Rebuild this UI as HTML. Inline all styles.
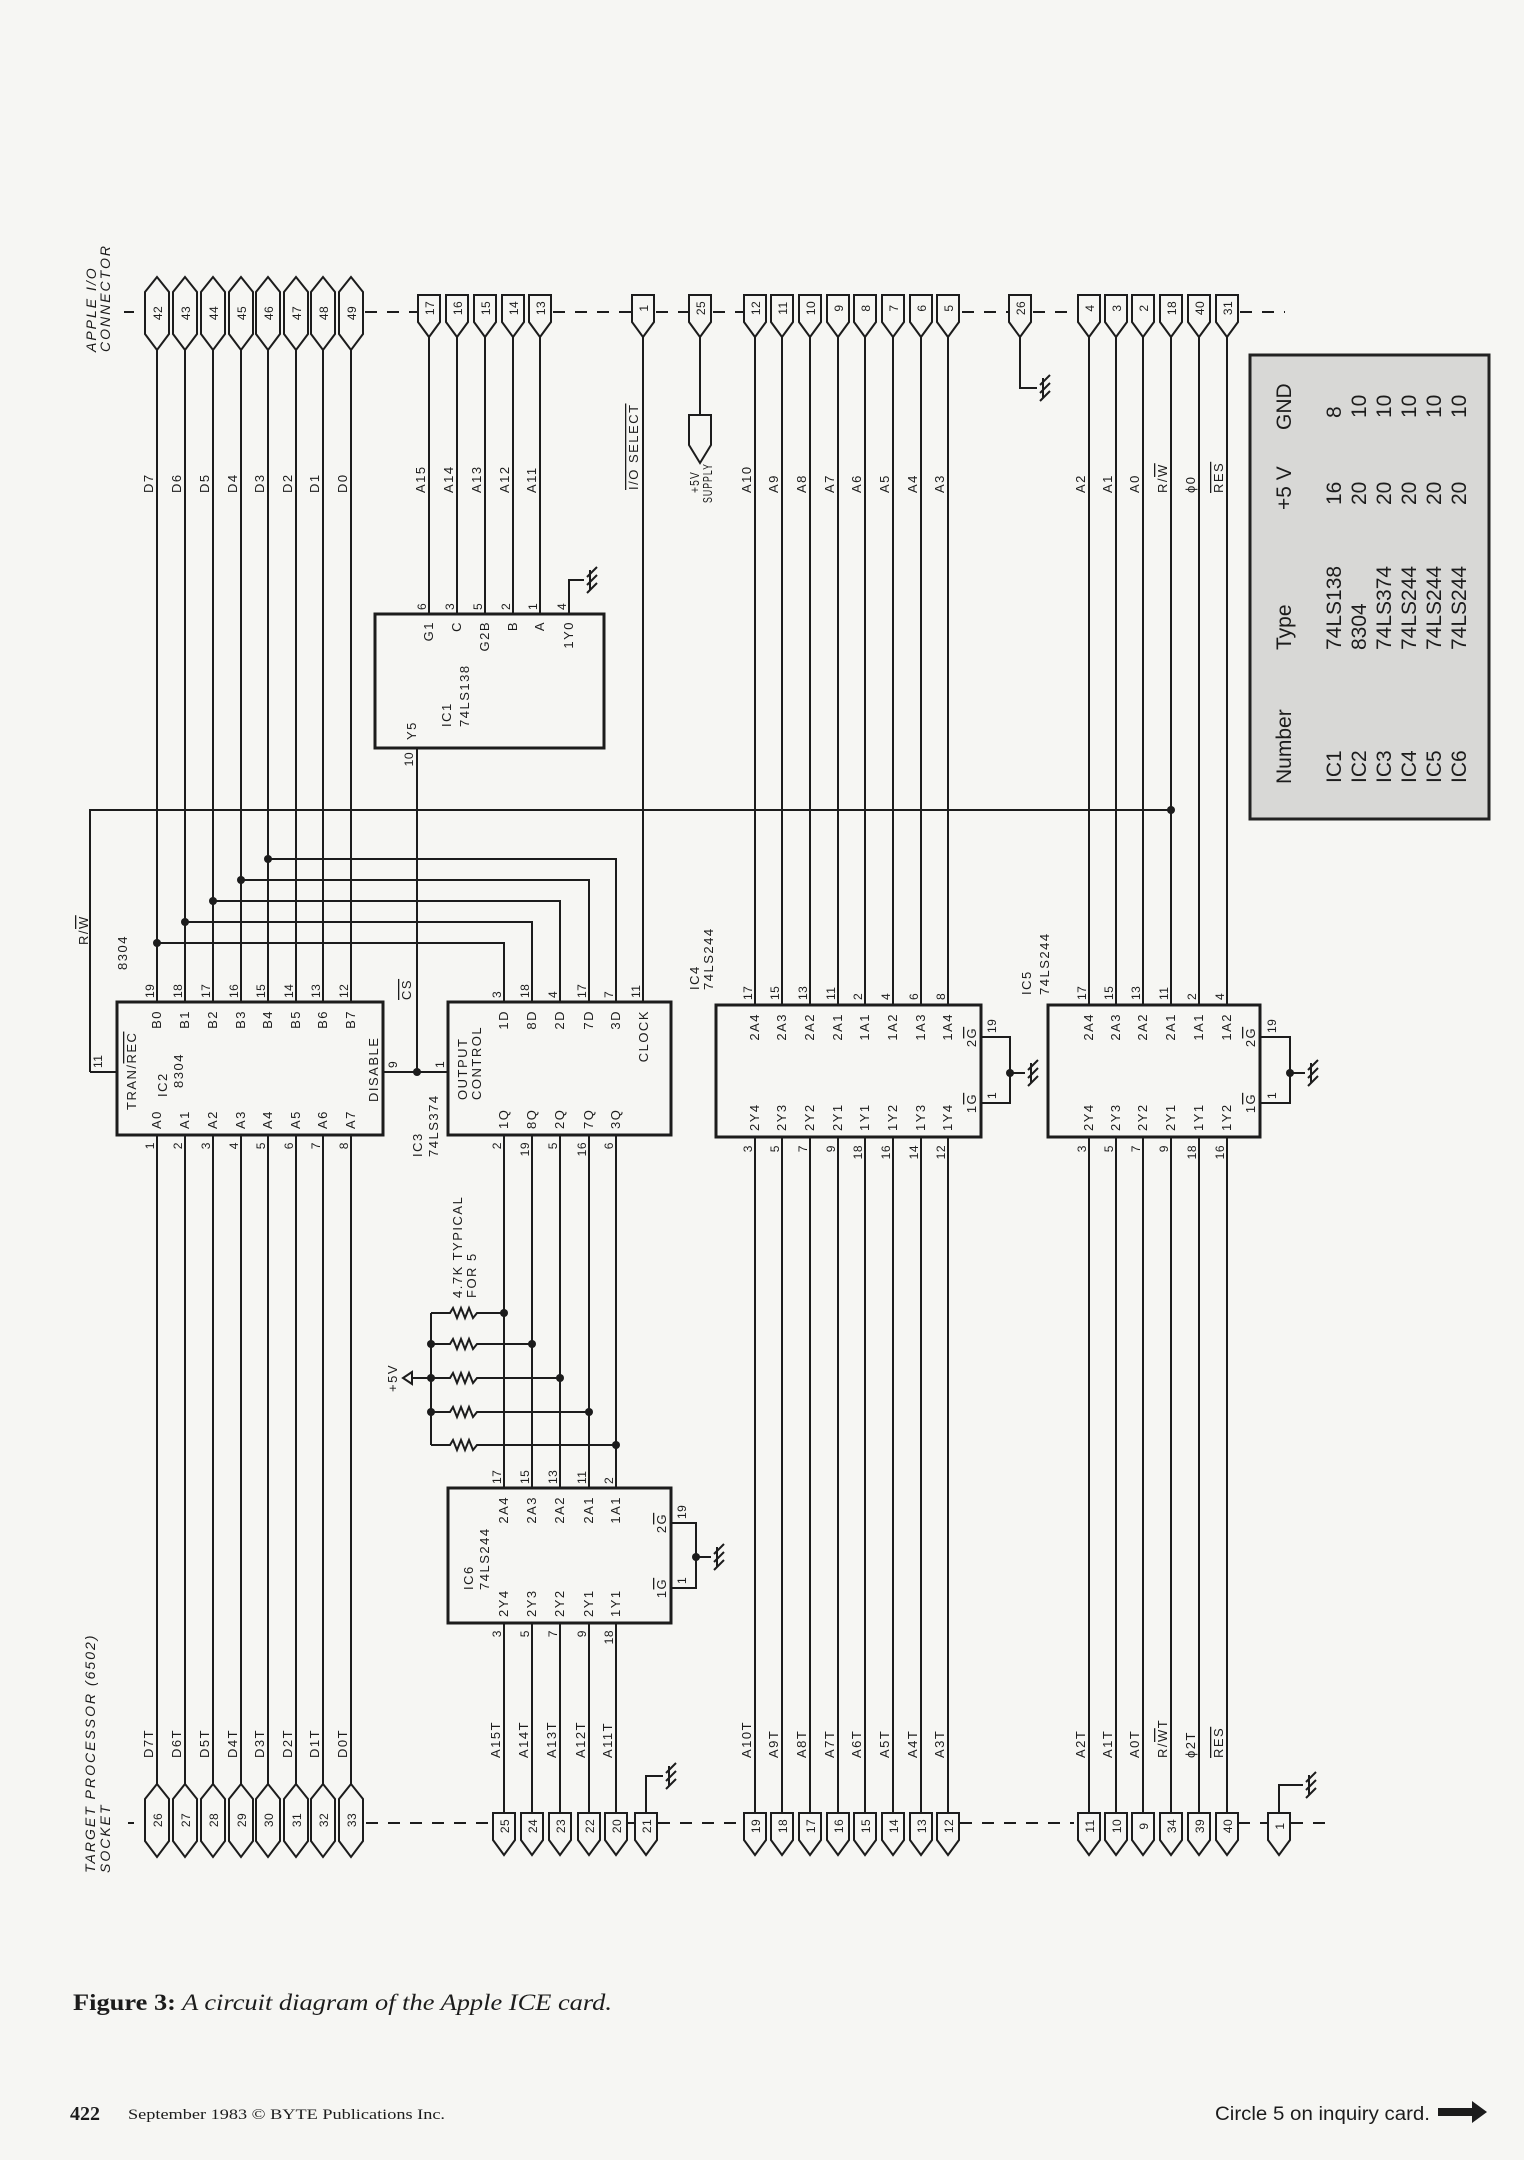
<!DOCTYPE html>
<html><head><meta charset="utf-8"><style>
html,body{margin:0;padding:0;background:#f6f6f3;}
svg{display:block;}
.l{font-family:"Liberation Sans",sans-serif;font-size:13px;letter-spacing:1.5px;fill:#1c1c1c;}
.n{font-family:"Liberation Sans",sans-serif;font-size:12px;letter-spacing:0.5px;fill:#1c1c1c;}
.it{font-family:"Liberation Sans",sans-serif;font-size:14px;font-style:italic;letter-spacing:2px;fill:#1c1c1c;}
.tb{font-family:"Liberation Sans",sans-serif;font-size:21px;fill:#1c1c1c;}
.ov{text-decoration:overline;}
</style></head><body>
<svg width="1524" height="2160" viewBox="0 0 1524 2160" xmlns="http://www.w3.org/2000/svg">
<defs>
<polygon id="dia" points="0,-36 12,-21 12,21 0,37 -12,21 -12,-21" fill="#f6f6f3" stroke="#1c1c1c" stroke-width="2"/>
<polygon id="pen" points="-11,-14 11,-14 11,13 0,28 -11,13" fill="#f6f6f3" stroke="#1c1c1c" stroke-width="2"/>
<path id="gnd" d="M0 -10 V10 M-3 -3 L7 -13 M-3 5 L7 -5 M-3 13 L7 3" fill="none" stroke="#1c1c1c" stroke-width="2"/>
</defs>
<rect width="1524" height="2160" fill="#f6f6f3"/>

<rect x="1250" y="355" width="239" height="464" fill="#d8d8d6" stroke="#222" stroke-width="3"/>

<g fill="none" stroke="#1c1c1c" stroke-width="2">
<path d="M157 350V1002M185 350V1002M213 350V1002M241 350V1002M268 350V1002M296 350V1002M323 350V1002M351 350V1002"/>
<path d="M157 1135V1785M185 1135V1785M213 1135V1785M241 1135V1785M268 1135V1785M296 1135V1785M323 1135V1785M351 1135V1785"/>
<path d="M429 336V614M457 336V614M485 336V614M513 336V614M540 336V614"/>
<path d="M643 336V1002M700 336V415"/>
<polygon points="689,415 711,415 711,445 700,463 689,445"/>
<path d="M755 336V1005M782 336V1005M810 336V1005M838 336V1005M865 336V1005M893 336V1005M921 336V1005M948 336V1005"/>
<path d="M755 1137V1813M782 1137V1813M810 1137V1813M838 1137V1813M865 1137V1813M893 1137V1813M921 1137V1813M948 1137V1813"/>
<path d="M1020 336V388H1037"/>
<path d="M1089 336V1005M1116 336V1005M1143 336V1005M1171 336V1005M1199 336V1005M1227 336V1005"/>
<path d="M1089 1137V1813M1116 1137V1813M1143 1137V1813M1171 1137V1813M1199 1137V1813M1227 1137V1813"/>
<path d="M569 614V580H584"/>
<path d="M417 748V1072"/>
<path d="M157 943H504V1002M185 922H532V1002M213 901H560V1002M241 880H589V1002M268 859H616V1002"/>
<path d="M504 1135V1488M532 1135V1488M560 1135V1488M589 1135V1488M616 1135V1488"/>
<path d="M504 1623V1813M532 1623V1813M560 1623V1813M589 1623V1813M616 1623V1813"/>
<path d="M646 1813V1776H663"/>
<path d="M1279 1813V1785H1303"/>
<path d="M90 1072H117M90 1072V810H1171"/>
<path d="M383 1072H448"/>
<path d="M981 1037H1010V1103H981M1010 1073H1025"/>
<path d="M1260 1037H1290V1103H1260M1290 1073H1305"/>
<path d="M671 1523H696V1588H671M696 1557H711"/>
<path d="M431 1313V1445M412 1378H431"/>
<path d="M431 1313H450l3 -5l4 10l4 -10l4 10l4 -10l4 10l4 -5H504"/>
<path d="M431 1344H450l3 -5l4 10l4 -10l4 10l4 -10l4 10l4 -5H532"/>
<path d="M431 1378H450l3 -5l4 10l4 -10l4 10l4 -10l4 10l4 -5H560"/>
<path d="M431 1412H450l3 -5l4 10l4 -10l4 10l4 -10l4 10l4 -5H589"/>
<path d="M431 1445H450l3 -5l4 10l4 -10l4 10l4 -10l4 10l4 -5H616"/>
<path d="M412 1372L403 1378L412 1384Z"/>
<g stroke-dasharray="12 10">
<path d="M124 312H134M365 312H418M553 312H632M656 312H689M713 312H744M962 312H1008M1033 312H1078M1240 312H1285"/>
<path d="M128 1823H134M366 1823H493M626 1823H635M658 1823H743M960 1823H1074M1238 1823H1268M1291 1823H1325"/>
</g>
</g>
<g fill="none" stroke="#1c1c1c" stroke-width="3">
<rect x="375" y="614" width="229" height="134"/>
<rect x="117" y="1002" width="266" height="133"/>
<rect x="448" y="1002" width="223" height="133"/>
<rect x="716" y="1005" width="265" height="132"/>
<rect x="1048" y="1005" width="212" height="132"/>
<rect x="448" y="1488" width="223" height="135"/>
</g>
<g fill="#1c1c1c">
<circle cx="157" cy="943" r="4"/><circle cx="185" cy="922" r="4"/><circle cx="213" cy="901" r="4"/><circle cx="241" cy="880" r="4"/><circle cx="268" cy="859" r="4"/>
<circle cx="1171" cy="810" r="4"/><circle cx="417" cy="1072" r="4"/>
<circle cx="1010" cy="1073" r="4"/><circle cx="1290" cy="1073" r="4"/><circle cx="696" cy="1557" r="4"/>
<circle cx="504" cy="1313" r="4"/><circle cx="532" cy="1344" r="4"/><circle cx="560" cy="1378" r="4"/><circle cx="589" cy="1412" r="4"/><circle cx="616" cy="1445" r="4"/>
<circle cx="431" cy="1344" r="4"/><circle cx="431" cy="1378" r="4"/><circle cx="431" cy="1412" r="4"/>
</g>
<use href="#gnd" x="590" y="580"/><use href="#gnd" x="1043" y="388"/><use href="#gnd" x="1031" y="1073"/><use href="#gnd" x="1311" y="1073"/><use href="#gnd" x="717" y="1557"/><use href="#gnd" x="669" y="1776"/><use href="#gnd" x="1309" y="1785"/>
<g transform="translate(0,313)"><use href="#dia" x="157"/><use href="#dia" x="185"/><use href="#dia" x="213"/><use href="#dia" x="241"/><use href="#dia" x="268"/><use href="#dia" x="296"/><use href="#dia" x="323"/><use href="#dia" x="351"/></g>
<g transform="translate(0,309)"><use href="#pen" x="429"/><use href="#pen" x="457"/><use href="#pen" x="485"/><use href="#pen" x="513"/><use href="#pen" x="540"/><use href="#pen" x="643"/><use href="#pen" x="700"/>
<use href="#pen" x="755"/><use href="#pen" x="782"/><use href="#pen" x="810"/><use href="#pen" x="838"/><use href="#pen" x="865"/><use href="#pen" x="893"/><use href="#pen" x="921"/><use href="#pen" x="948"/><use href="#pen" x="1020"/>
<use href="#pen" x="1089"/><use href="#pen" x="1116"/><use href="#pen" x="1143"/><use href="#pen" x="1171"/><use href="#pen" x="1199"/><use href="#pen" x="1227"/></g>
<g transform="translate(0,1820)"><use href="#dia" x="157"/><use href="#dia" x="185"/><use href="#dia" x="213"/><use href="#dia" x="241"/><use href="#dia" x="268"/><use href="#dia" x="296"/><use href="#dia" x="323"/><use href="#dia" x="351"/></g>
<g transform="translate(0,1827)"><use href="#pen" x="504"/><use href="#pen" x="532"/><use href="#pen" x="560"/><use href="#pen" x="589"/><use href="#pen" x="616"/><use href="#pen" x="646"/>
<use href="#pen" x="755"/><use href="#pen" x="782"/><use href="#pen" x="810"/><use href="#pen" x="838"/><use href="#pen" x="865"/><use href="#pen" x="893"/><use href="#pen" x="921"/><use href="#pen" x="948"/>
<use href="#pen" x="1089"/><use href="#pen" x="1116"/><use href="#pen" x="1143"/><use href="#pen" x="1171"/><use href="#pen" x="1199"/><use href="#pen" x="1227"/><use href="#pen" x="1279"/></g>

<g transform="rotate(-90)">
<g class="n" text-anchor="middle">
<text x="-313" y="162">42</text><text x="-313" y="190">43</text><text x="-313" y="218">44</text><text x="-313" y="246">45</text><text x="-313" y="273">46</text><text x="-313" y="301">47</text><text x="-313" y="328">48</text><text x="-313" y="356">49</text>
<text x="-308" y="434">17</text><text x="-308" y="462">16</text><text x="-308" y="490">15</text><text x="-308" y="518">14</text><text x="-308" y="545">13</text><text x="-308" y="648">1</text><text x="-308" y="705">25</text>
<text x="-308" y="760">12</text><text x="-308" y="787">11</text><text x="-308" y="815">10</text><text x="-308" y="843">9</text><text x="-308" y="870">8</text><text x="-308" y="898">7</text><text x="-308" y="926">6</text><text x="-308" y="953">5</text><text x="-308" y="1025">26</text>
<text x="-308" y="1094">4</text><text x="-308" y="1121">3</text><text x="-308" y="1148">2</text><text x="-308" y="1176">18</text><text x="-308" y="1204">40</text><text x="-308" y="1232">31</text>
<text x="-1820" y="162">26</text><text x="-1820" y="190">27</text><text x="-1820" y="218">28</text><text x="-1820" y="246">29</text><text x="-1820" y="273">30</text><text x="-1820" y="301">31</text><text x="-1820" y="328">32</text><text x="-1820" y="356">33</text>
<text x="-1826" y="509">25</text><text x="-1826" y="537">24</text><text x="-1826" y="565">23</text><text x="-1826" y="594">22</text><text x="-1826" y="621">20</text><text x="-1826" y="651">21</text>
<text x="-1826" y="760">19</text><text x="-1826" y="787">18</text><text x="-1826" y="815">17</text><text x="-1826" y="843">16</text><text x="-1826" y="870">15</text><text x="-1826" y="898">14</text><text x="-1826" y="926">13</text><text x="-1826" y="953">12</text>
<text x="-1826" y="1094">11</text><text x="-1826" y="1121">10</text><text x="-1826" y="1148">9</text><text x="-1826" y="1176">34</text><text x="-1826" y="1204">39</text><text x="-1826" y="1232">40</text><text x="-1826" y="1284">1</text>
</g>
<g class="l">
<text x="-493" y="153">D7</text><text x="-493" y="181">D6</text><text x="-493" y="209">D5</text><text x="-493" y="237">D4</text><text x="-493" y="264">D3</text><text x="-493" y="292">D2</text><text x="-493" y="319">D1</text><text x="-493" y="347">D0</text>
<text x="-493" y="425">A15</text><text x="-493" y="453">A14</text><text x="-493" y="481">A13</text><text x="-493" y="509">A12</text><text x="-493" y="536">A11</text>
<text x="-490" y="638" style="text-decoration:overline">I/O SELECT</text>
<text x="-493" y="699" textLength="22" lengthAdjust="spacingAndGlyphs">+5V</text><text x="-503" y="712" textLength="40" lengthAdjust="spacingAndGlyphs">SUPPLY</text>
<text x="-493" y="751">A10</text><text x="-493" y="778">A9</text><text x="-493" y="806">A8</text><text x="-493" y="834">A7</text><text x="-493" y="861">A6</text><text x="-493" y="889">A5</text><text x="-493" y="917">A4</text><text x="-493" y="944">A3</text>
<text x="-493" y="1085">A2</text><text x="-493" y="1112">A1</text><text x="-493" y="1139">A0</text><text x="-493" y="1167">R/<tspan style="text-decoration:overline">W</tspan></text><text x="-493" y="1195">ϕ0</text><text x="-493" y="1223" style="text-decoration:overline">RES</text>
<text x="-1758" y="153">D7T</text><text x="-1758" y="181">D6T</text><text x="-1758" y="209">D5T</text><text x="-1758" y="237">D4T</text><text x="-1758" y="264">D3T</text><text x="-1758" y="292">D2T</text><text x="-1758" y="319">D1T</text><text x="-1758" y="347">D0T</text>
<text x="-1758" y="500">A15T</text><text x="-1758" y="528">A14T</text><text x="-1758" y="556">A13T</text><text x="-1758" y="585">A12T</text><text x="-1758" y="612">A11T</text>
<text x="-1758" y="751">A10T</text><text x="-1758" y="778">A9T</text><text x="-1758" y="806">A8T</text><text x="-1758" y="834">A7T</text><text x="-1758" y="861">A6T</text><text x="-1758" y="889">A5T</text><text x="-1758" y="917">A4T</text><text x="-1758" y="944">A3T</text>
<text x="-1758" y="1085">A2T</text><text x="-1758" y="1112">A1T</text><text x="-1758" y="1139">A0T</text><text x="-1758" y="1167">R/<tspan style="text-decoration:overline">W</tspan>T</text><text x="-1758" y="1195">ϕ2T</text><text x="-1758" y="1223" style="text-decoration:overline">RES</text>
<text x="-945" y="88">R/<tspan style="text-decoration:overline">W</tspan></text>
<text x="-970" y="127">8304</text>
<text x="-1000" y="411" style="text-decoration:overline">CS</text>
<text x="-1392" y="397">+5V</text>
<text x="-1298" y="462">4.7K TYPICAL</text><text x="-1298" y="476">FOR 5</text>
<text x="-727" y="451">IC1</text><text x="-727" y="469">74LS138</text>
<text x="-740" y="416">Y5</text>
<g text-anchor="end"><text x="-621" y="433">G1</text><text x="-621" y="461">C</text><text x="-621" y="489">G2B</text><text x="-621" y="517">B</text><text x="-621" y="544">A</text><text x="-621" y="573">1Y0</text></g>
<text x="-1110" y="136">TRAN/<tspan style="text-decoration:overline">REC</tspan></text>
<text x="-1097" y="167">IC2</text><text x="-1088" y="183">8304</text>
<text x="-1102" y="378">DISABLE</text>
<g text-anchor="end"><text x="-1010" y="161">B0</text><text x="-1010" y="189">B1</text><text x="-1010" y="217">B2</text><text x="-1010" y="245">B3</text><text x="-1010" y="272">B4</text><text x="-1010" y="300">B5</text><text x="-1010" y="327">B6</text><text x="-1010" y="355">B7</text></g>
<text x="-1129" y="161">A0</text><text x="-1129" y="189">A1</text><text x="-1129" y="217">A2</text><text x="-1129" y="245">A3</text><text x="-1129" y="272">A4</text><text x="-1129" y="300">A5</text><text x="-1129" y="327">A6</text><text x="-1129" y="355">A7</text>
<text x="-1100" y="467">OUTPUT</text><text x="-1100" y="481">CONTROL</text>
<g text-anchor="end"><text x="-1010" y="508">1D</text><text x="-1010" y="536">8D</text><text x="-1010" y="564">2D</text><text x="-1010" y="593">7D</text><text x="-1010" y="620">3D</text><text x="-1010" y="648">CLOCK</text></g>
<text x="-1129" y="508">1Q</text><text x="-1129" y="536">8Q</text><text x="-1129" y="564">2Q</text><text x="-1129" y="593">7Q</text><text x="-1129" y="620">3Q</text>
<text x="-1157" y="422">IC3</text><text x="-1157" y="438">74LS374</text>
<text x="-990" y="699">IC4</text><text x="-990" y="713">74LS244</text>
<g text-anchor="end"><text x="-1013" y="759">2A4</text><text x="-1013" y="786">2A3</text><text x="-1013" y="814">2A2</text><text x="-1013" y="842">2A1</text><text x="-1013" y="869">1A1</text><text x="-1013" y="897">1A2</text><text x="-1013" y="925">1A3</text><text x="-1013" y="952">1A4</text></g>
<text x="-1131" y="759">2Y4</text><text x="-1131" y="786">2Y3</text><text x="-1131" y="814">2Y2</text><text x="-1131" y="842">2Y1</text><text x="-1131" y="869">1Y1</text><text x="-1131" y="897">1Y2</text><text x="-1131" y="925">1Y3</text><text x="-1131" y="952">1Y4</text>
<g text-anchor="middle"><text x="-1037" y="976">2<tspan style="text-decoration:overline">G</tspan></text><text x="-1103" y="976">1<tspan style="text-decoration:overline">G</tspan></text></g>
<text x="-995" y="1031">IC5</text><text x="-995" y="1049">74LS244</text>
<g text-anchor="end"><text x="-1013" y="1093">2A4</text><text x="-1013" y="1120">2A3</text><text x="-1013" y="1147">2A2</text><text x="-1013" y="1175">2A1</text><text x="-1013" y="1203">1A1</text><text x="-1013" y="1231">1A2</text></g>
<text x="-1131" y="1093">2Y4</text><text x="-1131" y="1120">2Y3</text><text x="-1131" y="1147">2Y2</text><text x="-1131" y="1175">2Y1</text><text x="-1131" y="1203">1Y1</text><text x="-1131" y="1231">1Y2</text>
<g text-anchor="middle"><text x="-1037" y="1255">2<tspan style="text-decoration:overline">G</tspan></text><text x="-1103" y="1255">1<tspan style="text-decoration:overline">G</tspan></text></g>
<text x="-1590" y="473">IC6</text><text x="-1590" y="489">74LS244</text>
<g text-anchor="end"><text x="-1496" y="508">2A4</text><text x="-1496" y="536">2A3</text><text x="-1496" y="564">2A2</text><text x="-1496" y="593">2A1</text><text x="-1496" y="620">1A1</text></g>
<text x="-1617" y="508">2Y4</text><text x="-1617" y="536">2Y3</text><text x="-1617" y="564">2Y2</text><text x="-1617" y="593">2Y1</text><text x="-1617" y="620">1Y1</text>
<g text-anchor="middle"><text x="-1523" y="666">2<tspan style="text-decoration:overline">G</tspan></text><text x="-1588" y="666">1<tspan style="text-decoration:overline">G</tspan></text></g>
</g>
<g class="n">
<text x="-998" y="154">19</text><text x="-998" y="182">18</text><text x="-998" y="210">17</text><text x="-998" y="238">16</text><text x="-998" y="265">15</text><text x="-998" y="293">14</text><text x="-998" y="320">13</text><text x="-998" y="348">12</text>
<text x="-998" y="501">3</text><text x="-998" y="529">18</text><text x="-998" y="557">4</text><text x="-998" y="586">17</text><text x="-998" y="613">7</text><text x="-998" y="640">11</text>
<text x="-1000" y="752">17</text><text x="-1000" y="779">15</text><text x="-1000" y="807">13</text><text x="-1000" y="835">11</text><text x="-1000" y="862">2</text><text x="-1000" y="890">4</text><text x="-1000" y="918">6</text><text x="-1000" y="945">8</text>
<text x="-1000" y="1086">17</text><text x="-1000" y="1113">15</text><text x="-1000" y="1140">13</text><text x="-1000" y="1168">11</text><text x="-1000" y="1196">2</text><text x="-1000" y="1224">4</text>
<text x="-1484" y="501">17</text><text x="-1484" y="529">15</text><text x="-1484" y="557">13</text><text x="-1484" y="586">11</text><text x="-1484" y="613">2</text>
<text x="-610" y="426">6</text><text x="-610" y="454">3</text><text x="-610" y="482">5</text><text x="-610" y="510">2</text><text x="-610" y="537">1</text><text x="-610" y="566">4</text>
<text x="-1068" y="102">11</text><text x="-1068" y="397">9</text><text x="-1068" y="444">1</text>
<text x="-1033" y="996">19</text><text x="-1099" y="996">1</text>
<text x="-1033" y="1276">19</text><text x="-1099" y="1276">1</text>
<text x="-1519" y="686">19</text><text x="-1584" y="686">1</text>
<g text-anchor="end">
<text x="-752" y="413">10</text>
<text x="-1142" y="154">1</text><text x="-1142" y="182">2</text><text x="-1142" y="210">3</text><text x="-1142" y="238">4</text><text x="-1142" y="265">5</text><text x="-1142" y="293">6</text><text x="-1142" y="320">7</text><text x="-1142" y="348">8</text>
<text x="-1142" y="501">2</text><text x="-1142" y="529">19</text><text x="-1142" y="557">5</text><text x="-1142" y="586">16</text><text x="-1142" y="613">6</text>
<text x="-1145" y="752">3</text><text x="-1145" y="779">5</text><text x="-1145" y="807">7</text><text x="-1145" y="835">9</text><text x="-1145" y="862">18</text><text x="-1145" y="890">16</text><text x="-1145" y="918">14</text><text x="-1145" y="945">12</text>
<text x="-1145" y="1086">3</text><text x="-1145" y="1113">5</text><text x="-1145" y="1140">7</text><text x="-1145" y="1168">9</text><text x="-1145" y="1196">18</text><text x="-1145" y="1224">16</text>
<text x="-1630" y="501">3</text><text x="-1630" y="529">5</text><text x="-1630" y="557">7</text><text x="-1630" y="586">9</text><text x="-1630" y="613">18</text>
</g>
</g>
<g class="it">
<text x="-352" y="96">APPLE I/O</text><text x="-352" y="110">CONNECTOR</text>
<text x="-1873" y="95">TARGET PROCESSOR (6502)</text><text x="-1873" y="110">SOCKET</text>
</g>
<g class="tb">
<text x="-784" y="1291">Number</text><text x="-650" y="1291">Type</text><text x="-510" y="1291">+5 V</text><text x="-430" y="1291">GND</text>
<text x="-783" y="1341">IC1</text><text x="-650" y="1341">74LS138</text><text x="-505" y="1341">16</text><text x="-418" y="1341">8</text>
<text x="-783" y="1366">IC2</text><text x="-650" y="1366">8304</text><text x="-505" y="1366">20</text><text x="-418" y="1366">10</text>
<text x="-783" y="1391">IC3</text><text x="-650" y="1391">74LS374</text><text x="-505" y="1391">20</text><text x="-418" y="1391">10</text>
<text x="-783" y="1416">IC4</text><text x="-650" y="1416">74LS244</text><text x="-505" y="1416">20</text><text x="-418" y="1416">10</text>
<text x="-783" y="1441">IC5</text><text x="-650" y="1441">74LS244</text><text x="-505" y="1441">20</text><text x="-418" y="1441">10</text>
<text x="-783" y="1466">IC6</text><text x="-650" y="1466">74LS244</text><text x="-505" y="1466">20</text><text x="-418" y="1466">10</text>
</g>
</g>

<text x="73" y="2010" textLength="539" lengthAdjust="spacingAndGlyphs" style="font-family:'Liberation Serif',serif;font-size:23px;fill:#1c1c1c;"><tspan font-weight="bold">Figure 3:</tspan><tspan font-style="italic"> A circuit diagram of the Apple ICE card.</tspan></text>
<text x="70" y="2120" style="font-family:'Liberation Serif',serif;font-size:20px;font-weight:bold;fill:#1c1c1c;">422</text>
<text x="128" y="2119" textLength="317" lengthAdjust="spacingAndGlyphs" style="font-family:'Liberation Serif',serif;font-size:15px;fill:#1c1c1c;">September 1983 © BYTE Publications Inc.</text>
<text x="1215" y="2120" textLength="215" lengthAdjust="spacingAndGlyphs" style="font-family:'Liberation Sans',sans-serif;font-size:19px;fill:#1c1c1c;">Circle 5 on inquiry card.</text>
<polygon points="1438,2108 1472,2108 1472,2101 1487,2112 1472,2123 1472,2116 1438,2116" fill="#1c1c1c"/>
</svg>
</body></html>
